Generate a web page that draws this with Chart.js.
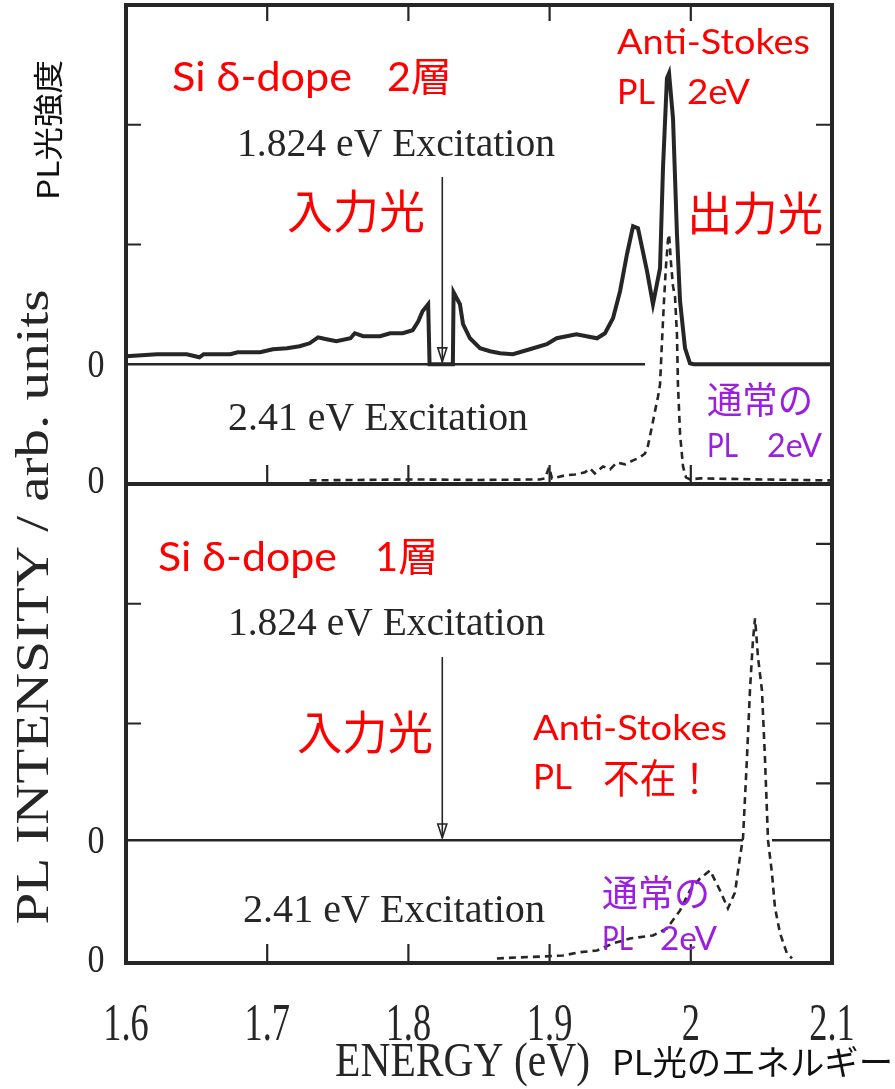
<!DOCTYPE html>
<html>
<head>
<meta charset="utf-8">
<script src="https://cdn.jsdelivr.net/npm/chart.js@4.4.1/dist/chart.umd.min.js"></script>
<style>
  html, body { margin: 0; padding: 0; background: #ffffff; }
  canvas { display: block; }
</style>
</head>
<body>
<canvas id="pl" width="895" height="1089"></canvas>
<script>
// ---- energy axis -------------------------------------------------------
const energyTicks = [1.6, 1.7, 1.8, 1.9, 2.0, 2.1];
const energyTickLabels = ['1.6', '1.7', '1.8', '1.9', '2', '2.1'];
const energyInnerTicks = [1.7, 1.8, 1.9, 2.0];

// ---- Si delta-doped, two layers: 1.824 eV excitation (solid) -----------
const dbl1824Energy = [
  1.600, 1.622, 1.643, 1.652, 1.655, 1.674, 1.679, 1.695, 1.704, 1.714,
  1.723, 1.730, 1.736, 1.742, 1.749, 1.759, 1.762, 1.768, 1.780, 1.787,
  1.796, 1.803, 1.807, 1.810, 1.814, 1.815, 1.8315, 1.832, 1.8365, 1.8387,
  1.8436, 1.8507, 1.8578, 1.8649, 1.874, 1.886, 1.898, 1.905, 1.919, 1.9336,
  1.9392, 1.9449, 1.9499, 1.9548, 1.9591, 1.9626, 1.969, 1.9732, 1.9782, 1.9803,
  1.9831, 1.9846, 1.9874, 1.9902, 1.9924, 1.9959, 1.9994, 2.002, 2.1
];
const dbl1824Intensity = [
  0.067, 0.084, 0.084, 0.058, 0.084, 0.084, 0.100, 0.100, 0.125, 0.134,
  0.150, 0.175, 0.225, 0.209, 0.192, 0.217, 0.259, 0.234, 0.234, 0.259,
  0.259, 0.284, 0.359, 0.443, 0.501, 0.0, 0.0, 0.601, 0.501, 0.334,
  0.217, 0.134, 0.109, 0.092, 0.084, 0.125, 0.167, 0.217, 0.251, 0.217,
  0.259, 0.384, 0.610, 0.919, 1.152, 1.136, 0.777, 0.501, 0.802, 1.637,
  2.388, 2.430, 2.054, 1.086, 0.526, 0.134, 0.008, 0.0, 0.0
];
// zero reference drawn under the solid trace
const dbl1824ZeroEnergy = [1.6, 1.9676];
const dbl1824ZeroIntensity = [0, 0];

// ---- Si delta-doped, two layers: 2.41 eV excitation (dashed) -----------
const dbl241Energy = [
  1.730, 1.800, 1.850, 1.893, 1.8967, 1.8996, 1.9017, 1.911, 1.918, 1.925,
  1.9286, 1.932, 1.9378, 1.9428, 1.9477, 1.9534, 1.9591, 1.964, 1.9676, 1.9697,
  1.9725, 1.9746, 1.9768, 1.9782, 1.9796, 1.981, 1.9824, 1.9839, 1.9846, 1.986,
  1.9874, 1.9888, 1.9902, 1.9909, 1.9924, 1.9945, 1.9966, 1.9994, 2.0065, 2.05,
  2.1
];
const dbl241Intensity = [
  0.0, 0.008, 0.004, 0.008, 0.017, 0.109, 0.017, 0.042, 0.050, 0.067,
  0.100, 0.058, 0.117, 0.092, 0.150, 0.134, 0.167, 0.192, 0.225, 0.292,
  0.451, 0.576, 0.701, 0.802, 1.161, 1.495, 1.787, 2.013, 2.054, 1.812,
  1.620, 1.537, 1.219, 0.802, 0.384, 0.117, 0.025, 0.008, 0.017, 0.008,
  0.0
];

// ---- Si delta-doped, one layer: 1.824 eV excitation (no signal) --------
const sgl1824Energy = [1.6, 2.037, 2.047, 2.0575, 2.1];
const sgl1824Intensity = [0, 0, null, 0, 0];

// ---- Si delta-doped, one layer: 2.41 eV excitation (dashed) ------------
const sgl241Energy = [
  1.8627, 1.879, 1.8967, 1.9095, 1.9215, 1.9336, 1.945, 1.957, 1.9732, 1.9831,
  1.9924, 1.9994, 2.0065, 2.0136, 2.0207, 2.0263, 2.0313, 2.0348, 2.037, 2.0398,
  2.0419, 2.044, 2.0455, 2.0476, 2.0504, 2.0525, 2.0547, 2.0575, 2.0596, 2.0632,
  2.0681, 2.0717
];
const sgl241Intensity = [
  0.008, 0.017, 0.025, 0.033, 0.060, 0.075, 0.134, 0.175, 0.200, 0.259,
  0.409, 0.576, 0.676, 0.743, 0.576, 0.426, 0.559, 0.852, 1.019, 1.687,
  2.246, 2.664, 2.848, 2.522, 2.246, 1.687, 0.994, 0.718, 0.434, 0.217,
  0.050, 0.008
];

// vertical offset of each trace on the shared intensity axis (1 unit = one major tick)
const offsetDbl1824 = 5.0;
const offsetDbl241 = 4.03;
const offsetSgl1824 = 1.025;
const offsetSgl241 = 0.03;

// excitation arrows: energy, top and tip on the intensity axis
const excitationEnergy = 1.824;
const arrowUpper = [6.564, 5.02];
const arrowLower = [2.555, 1.044];

// intensity-axis tick marks
const leftTicks = [2, 3, 6, 7];
const rightTicks = [1.5, 2, 2.5, 3, 3.5, 6, 7];
const panelDivider = 4;

function pts(en, val, off) {
  return en.map((e, i) => ({ x: e, y: val[i] === null ? null : val[i] + off }));
}

const INK = '#262626';
const RED = '#ff0000';
const PURPLE = '#9a1fe0';
const SERIF = '"Liberation Serif", "DejaVu Serif", serif';
const SANS = 'Lato, "Noto Sans CJK JP", sans-serif';
const CJK = '"Noto Sans CJK JP", sans-serif';

// text drawn at a given left/right span, optionally rotated
function fitText(ctx, t) {
  ctx.save();
  ctx.font = t.font;
  const w = ctx.measureText(t.text).width;
  const target = t.x1 - t.x0;
  const sx = target / w;
  const cx = (t.x0 + t.x1) / 2;
  ctx.translate(t.rot ? t.cx : cx, t.cy);
  if (t.rot) ctx.rotate(t.rot);
  ctx.scale(sx, 1);
  ctx.fillStyle = t.color;
  ctx.textAlign = 'center';
  ctx.textBaseline = 'middle';
  ctx.fillText(t.text, 0, 0);
  ctx.restore();
}

const annotations = [
  // upper panel
  { text: 'Si δ-dope', x0: 172, x1: 352, cy: 78, font: '40px ' + SANS, color: RED },
  { text: '2層', x0: 387, x1: 452, cy: 78, font: '40px ' + SANS, color: RED },
  { text: '入力光', x0: 287, x1: 425, cy: 211, font: '46px ' + CJK, color: RED },
  { text: 'Anti-Stokes', x0: 617, x1: 810, cy: 43, font: '35px ' + SANS, color: RED },
  { text: 'PL', x0: 617, x1: 655, cy: 93, font: '35px ' + SANS, color: RED },
  { text: '2eV', x0: 687, x1: 750, cy: 93, font: '35px ' + SANS, color: RED },
  { text: '出力光', x0: 687, x1: 823, cy: 213, font: '46px ' + CJK, color: RED },
  { text: '通常の', x0: 707, x1: 813, cy: 400, font: '37px ' + CJK, color: PURPLE },
  { text: 'PL', x0: 707, x1: 738, cy: 447, font: '32px ' + SANS, color: PURPLE },
  { text: '2eV', x0: 767, x1: 822, cy: 447, font: '32px ' + SANS, color: PURPLE },
  { text: '1.824 eV Excitation', x0: 237, x1: 555, cy: 145, font: '40px ' + SERIF, color: INK },
  { text: '2.41 eV Excitation', x0: 228, x1: 528, cy: 419, font: '40px ' + SERIF, color: INK },
  // lower panel
  { text: 'Si δ-dope', x0: 158, x1: 337, cy: 558, font: '40px ' + SANS, color: RED },
  { text: '1層', x0: 375, x1: 438, cy: 558, font: '40px ' + SANS, color: RED },
  { text: '入力光', x0: 297, x1: 433, cy: 732, font: '46px ' + CJK, color: RED },
  { text: 'Anti-Stokes', x0: 533, x1: 727, cy: 729, font: '35px ' + SANS, color: RED },
  { text: 'PL', x0: 533, x1: 572, cy: 778, font: '35px ' + SANS, color: RED },
  { text: '不在！', x0: 603, x1: 713, cy: 778, font: '40px ' + CJK, color: RED },
  { text: '通常の', x0: 602, x1: 710, cy: 893, font: '37px ' + CJK, color: PURPLE },
  { text: 'PL', x0: 602, x1: 633, cy: 940, font: '32px ' + SANS, color: PURPLE },
  { text: '2eV', x0: 660, x1: 717, cy: 940, font: '32px ' + SANS, color: PURPLE },
  { text: '1.824 eV Excitation', x0: 228, x1: 545, cy: 624, font: '40px ' + SERIF, color: INK },
  { text: '2.41 eV Excitation', x0: 243, x1: 545, cy: 911, font: '40px ' + SERIF, color: INK },
  // axis titles
  { text: 'ENERGY (eV)', x0: 335, x1: 590, cy: 1063, font: '48px ' + SERIF, color: INK },
  { text: 'PL光のエネルギー', x0: 612, x1: 893, cy: 1062, font: '34px ' + CJK, color: '#111' },
  { text: 'PL INTENSITY / arb. units', x0: 290, x1: 925, cx: 36, cy: 607, rot: -Math.PI / 2, font: '47px ' + SERIF, color: INK },
  { text: 'PL光強度', x0: 60, x1: 200, cx: 48, cy: 130, rot: -Math.PI / 2, font: '30px ' + CJK, color: '#111' }
];

const framePlugin = {
  id: 'frameAndLabels',
  afterDatasetsDraw(chart) {
    const { ctx, chartArea: a, scales: { x, y } } = chart;
    ctx.save();
    ctx.strokeStyle = INK;
    ctx.lineCap = 'butt';

    // frame and panel divider
    ctx.lineWidth = 4;
    ctx.strokeRect(a.left, a.top, a.right - a.left, a.bottom - a.top);
    const yd = y.getPixelForValue(panelDivider);
    ctx.beginPath();
    ctx.moveTo(a.left, yd); ctx.lineTo(a.right, yd);
    ctx.stroke();

    // inward tick marks
    ctx.lineWidth = 2.2;
    ctx.beginPath();
    energyInnerTicks.forEach(v => {
      const px = x.getPixelForValue(v);
      ctx.moveTo(px, a.top); ctx.lineTo(px, a.top + 16);
      ctx.moveTo(px, yd); ctx.lineTo(px, yd - 19);
      ctx.moveTo(px, a.bottom); ctx.lineTo(px, a.bottom - 19);
    });
    leftTicks.forEach(v => {
      const py = y.getPixelForValue(v);
      ctx.moveTo(a.left, py); ctx.lineTo(a.left + 15, py);
    });
    rightTicks.forEach(v => {
      const py = y.getPixelForValue(v);
      ctx.moveTo(a.right, py); ctx.lineTo(a.right - 16, py);
    });
    ctx.stroke();

    // excitation arrows
    ctx.lineWidth = 1.6;
    [arrowUpper, arrowLower].forEach(([top, tip]) => {
      const px = x.getPixelForValue(excitationEnergy);
      const p0 = y.getPixelForValue(top);
      const p1 = y.getPixelForValue(tip);
      ctx.beginPath();
      ctx.moveTo(px, p0); ctx.lineTo(px, p1);
      ctx.stroke();
      ctx.beginPath();
      ctx.moveTo(px - 4.5, p1 - 14); ctx.lineTo(px + 4.5, p1 - 14); ctx.lineTo(px, p1);
      ctx.closePath();
      ctx.stroke();
    });

    // energy tick labels
    ctx.fillStyle = INK;
    ctx.textBaseline = 'middle';
    energyTicks.forEach((v, i) => {
      const px = x.getPixelForValue(v);
      ctx.save();
      ctx.translate(px, a.bottom + 63);
      ctx.scale(0.7, 1);
      ctx.font = '52px ' + SERIF;
      ctx.textAlign = 'center';
      ctx.fillText(energyTickLabels[i], 0, 0);
      ctx.restore();
    });
    // zero labels for each trace
    [offsetDbl1824, offsetDbl241, offsetSgl1824, offsetSgl241].forEach(v => {
      const py = y.getPixelForValue(v);
      ctx.save();
      ctx.translate(a.left - 30, py + 2);
      ctx.scale(0.85, 1);
      ctx.font = '40px ' + SERIF;
      ctx.textAlign = 'center';
      ctx.fillText('0', 0, 0);
      ctx.restore();
    });
    ctx.restore();

    annotations.forEach(t => fitText(ctx, t));
  }
};

const solid = { borderColor: INK, borderWidth: 4, pointRadius: 0, tension: 0, fill: false };
const zeroLine = { borderColor: INK, borderWidth: 2.6, pointRadius: 0, tension: 0, fill: false };
const dashed = { borderColor: INK, borderWidth: 2.6, borderDash: [7, 5], pointRadius: 0, tension: 0, fill: false };

new Chart(document.getElementById('pl'), {
  type: 'line',
  data: {
    datasets: [
      Object.assign({ label: '2層 ゼロ', data: pts(dbl1824ZeroEnergy, dbl1824ZeroIntensity, offsetDbl1824) }, zeroLine),
      Object.assign({ label: '2層 1.824 eV', data: pts(dbl1824Energy, dbl1824Intensity, offsetDbl1824) }, solid),
      Object.assign({ label: '2層 2.41 eV', data: pts(dbl241Energy, dbl241Intensity, offsetDbl241) }, dashed),
      Object.assign({ label: '1層 1.824 eV', data: pts(sgl1824Energy, sgl1824Intensity, offsetSgl1824) }, zeroLine),
      Object.assign({ label: '1層 2.41 eV', data: pts(sgl241Energy, sgl241Intensity, offsetSgl241) }, dashed)
    ]
  },
  options: {
    responsive: false,
    animation: false,
    devicePixelRatio: 1,
    spanGaps: false,
    layout: { padding: { left: 126, right: 63, top: 5, bottom: 126 } },
    plugins: { legend: { display: false }, tooltip: { enabled: false }, title: { display: false } },
    scales: {
      x: { type: 'linear', min: 1.6, max: 2.1, display: false },
      y: { type: 'linear', min: 0, max: 8, display: false }
    }
  },
  plugins: [framePlugin]
});
</script>
</body>
</html>
